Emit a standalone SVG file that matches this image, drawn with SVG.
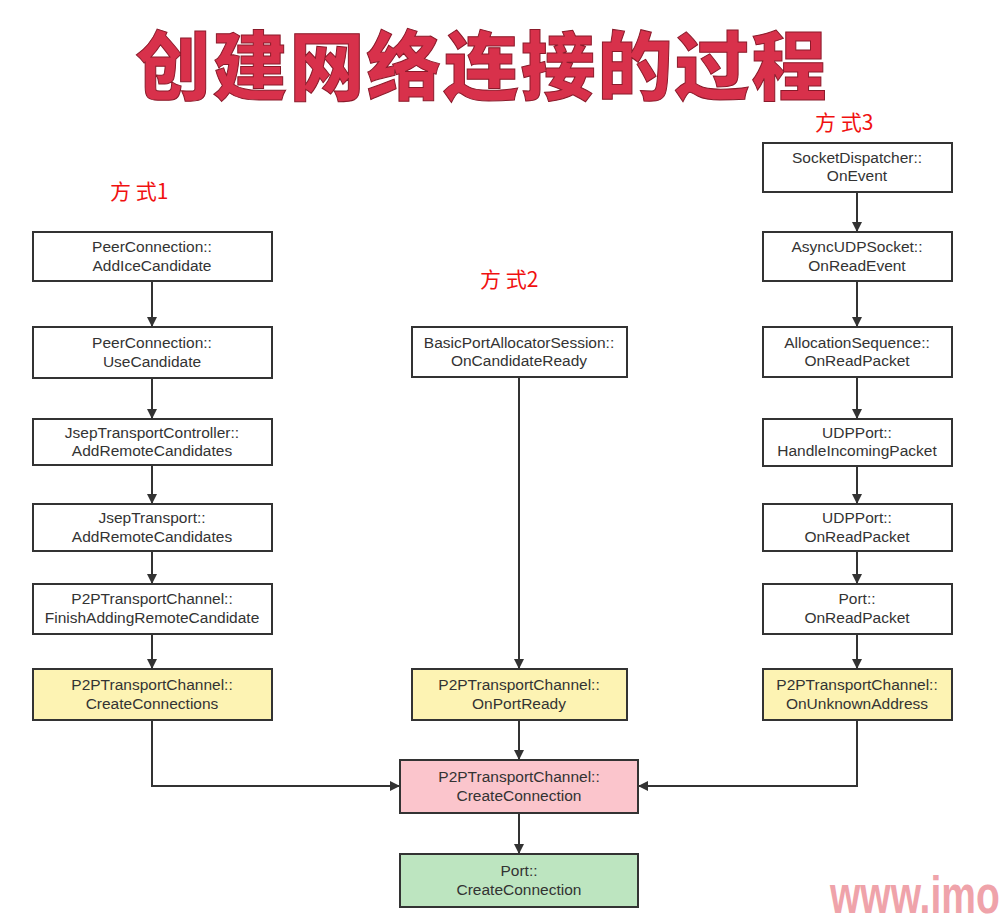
<svg xmlns="http://www.w3.org/2000/svg" width="1007" height="924" viewBox="0 0 1007 924">
<defs>
<marker id="arr" viewBox="0 0 10 10" refX="10" refY="5" markerWidth="10" markerHeight="10" markerUnits="userSpaceOnUse" orient="auto">
<path d="M0,0 L10,5 L0,10 z" fill="#333"/>
</marker>
<style>
.box{fill:#fff;stroke:#333;stroke-width:2}
.yel{fill:#fdf3b3}
.pink{fill:#fbc5cc}
.green{fill:#bde5c0}
.t{font-family:"Liberation Sans","Noto Sans",Arial,sans-serif;font-size:15.5px;fill:#333;text-anchor:middle}
.lbl{font-family:"Noto Sans CJK SC","Noto Sans",sans-serif;font-size:21px;fill:#f01010}
.c{fill:none;stroke:#333;stroke-width:2;marker-end:url(#arr)}
</style>
</defs>
<rect width="1007" height="924" fill="#fff"/>
<text x="482" y="94" font-family="'Noto Sans CJK SC',sans-serif" font-weight="900" font-size="75" fill="#d8314b" stroke="#8a1a2a" stroke-width="1" text-anchor="middle" letter-spacing="2">创建网络连接的过程</text>
<text class="lbl" x="110" y="199">方 式1</text>
<text class="lbl" x="480" y="287">方 式2</text>
<text class="lbl" x="815" y="130">方 式3</text>

<g id="connectors">
<path class="c" d="M152,281 V327"/>
<path class="c" d="M152,378 V419"/>
<path class="c" d="M152,465 V504"/>
<path class="c" d="M152,551 V584"/>
<path class="c" d="M152,634 V669"/>
<path class="c" d="M152,720 V786 H400"/>
<path class="c" d="M519,377 V669"/>
<path class="c" d="M519,720 V760"/>
<path class="c" d="M519,813 V854"/>
<path class="c" d="M857,192 V232"/>
<path class="c" d="M857,281 V327"/>
<path class="c" d="M857,377 V419"/>
<path class="c" d="M857,466 V504"/>
<path class="c" d="M857,551 V584"/>
<path class="c" d="M857,634 V669"/>
<path class="c" d="M857,720 V786 H638"/>
</g>

<g id="n1"><rect class="box" x="33" y="232" width="239" height="49"/><text class="t" x="152" y="252">PeerConnection::</text><text class="t" x="152" y="271">AddIceCandidate</text></g>
<g id="n2"><rect class="box" x="33" y="327" width="239" height="51"/><text class="t" x="152" y="348">PeerConnection::</text><text class="t" x="152" y="367">UseCandidate</text></g>
<g id="n3"><rect class="box" x="33" y="419" width="239" height="46"/><text class="t" x="152" y="438">JsepTransportController::</text><text class="t" x="152" y="456">AddRemoteCandidates</text></g>
<g id="n4"><rect class="box" x="33" y="504" width="239" height="47"/><text class="t" x="152" y="523">JsepTransport::</text><text class="t" x="152" y="542">AddRemoteCandidates</text></g>
<g id="n5"><rect class="box" x="33" y="584" width="239" height="50"/><text class="t" x="152" y="604">P2PTransportChannel::</text><text class="t" x="152" y="623">FinishAddingRemoteCandidate</text></g>
<g id="n6"><rect class="box yel" x="33" y="669" width="239" height="51"/><text class="t" x="152" y="690">P2PTransportChannel::</text><text class="t" x="152" y="709">CreateConnections</text></g>

<g id="m1"><rect class="box" x="412" y="327" width="215" height="50"/><text class="t" x="519" y="348">BasicPortAllocatorSession::</text><text class="t" x="519" y="366">OnCandidateReady</text></g>
<g id="m2"><rect class="box yel" x="412" y="669" width="215" height="51"/><text class="t" x="519" y="690">P2PTransportChannel::</text><text class="t" x="519" y="709">OnPortReady</text></g>
<g id="m3"><rect class="box pink" x="400" y="760" width="238" height="53"/><text class="t" x="519" y="782">P2PTransportChannel::</text><text class="t" x="519" y="801">CreateConnection</text></g>
<g id="m4"><rect class="box green" x="400" y="854" width="238" height="53"/><text class="t" x="519" y="876">Port::</text><text class="t" x="519" y="895">CreateConnection</text></g>

<g id="r1"><rect class="box" x="763" y="143" width="189" height="49"/><text class="t" x="857" y="163">SocketDispatcher::</text><text class="t" x="857" y="181">OnEvent</text></g>
<g id="r2"><rect class="box" x="763" y="232" width="189" height="49"/><text class="t" x="857" y="252">AsyncUDPSocket::</text><text class="t" x="857" y="271">OnReadEvent</text></g>
<g id="r3"><rect class="box" x="763" y="327" width="189" height="50"/><text class="t" x="857" y="348">AllocationSequence::</text><text class="t" x="857" y="366">OnReadPacket</text></g>
<g id="r4"><rect class="box" x="763" y="419" width="189" height="47"/><text class="t" x="857" y="438">UDPPort::</text><text class="t" x="857" y="456">HandleIncomingPacket</text></g>
<g id="r5"><rect class="box" x="763" y="504" width="189" height="47"/><text class="t" x="857" y="523">UDPPort::</text><text class="t" x="857" y="542">OnReadPacket</text></g>
<g id="r6"><rect class="box" x="763" y="584" width="189" height="50"/><text class="t" x="857" y="604">Port::</text><text class="t" x="857" y="623">OnReadPacket</text></g>
<g id="r7"><rect class="box yel" x="763" y="669" width="189" height="51"/><text class="t" x="857" y="690">P2PTransportChannel::</text><text class="t" x="857" y="709">OnUnknownAddress</text></g>

<text transform="translate(830,913) scale(1,1.35)" font-family="'Liberation Sans',Arial,sans-serif" font-weight="bold" font-size="39" fill="#efa3aa">www.imo</text>
</svg>
